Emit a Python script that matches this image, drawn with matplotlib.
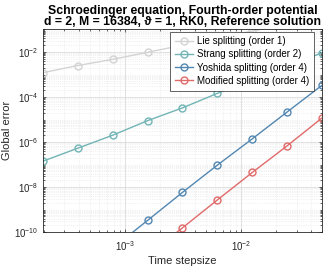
import numpy as np
import matplotlib
matplotlib.use("Agg")
import matplotlib.pyplot as plt
from matplotlib.ticker import LogLocator, NullFormatter

plt.rcParams['font.family'] = ['Liberation Sans', 'DejaVu Sans']
plt.rcParams['mathtext.fontset'] = 'custom'
plt.rcParams['mathtext.rm'] = 'Liberation Sans'
plt.rcParams['mathtext.it'] = 'Liberation Sans:italic'

# time step sizes
stepsize = [0.05 / 2**k for k in range(8, -1, -1)]

# global errors (values outside the axes are clipped)
lie = [1.2e-3, 2.5e-3, 4.7e-3, 9.7e-3, 2.0e-2, 4.1e-2, 8.5e-2, 1.7e-1, 3.3e-1]
strang = [1.4e-7, 5.3e-7, 2.0e-6, 8.9e-6, 3.3e-5, 1.46e-4, 5.8e-4, 2.3e-3, 9.3e-3]
yoshida = [1.1e-12, 1.9e-11, 3.3e-10, 5.8e-9, 9.5e-8, 1.4e-6, 2.2e-5, 3.4e-4]
modified = [5e-13, 9e-12, 1.55e-10, 2.7e-9, 4.5e-8, 6.9e-7, 1.2e-5]

labels = ["Lie splitting (order 1)", "Strang splitting (order 2)",
          "Yoshida splitting (order 4)", "Modified splitting (order 4)"]
colors = ["#d3d3d3", "#72b4b5", "#5287b2", "#e06a69"]

fig = plt.figure(figsize=(3.27, 2.68), dpi=100)
ax = fig.add_axes([0.1306, 0.134, 0.855, 0.756])

series = [(stepsize, lie), (stepsize, strang),
          (stepsize[1:], yoshida), (stepsize[2:], modified)]
for (x, y), lab, c in zip(series, labels, colors):
    ax.plot(x, y, '-o', color=c, lw=1.0, ms=5, mfc='none', mew=1.0, label=lab)

ax.set_xscale('log')
ax.set_yscale('log')
ax.set_xlim(0.05 / 2**8, 0.05)
ax.set_ylim(1e-10, 1e-1)

ax.xaxis.set_major_locator(LogLocator(base=10, numticks=10))
ax.yaxis.set_major_locator(LogLocator(base=100, numticks=10))
ax.yaxis.set_minor_locator(LogLocator(base=10, subs=np.arange(1, 10), numticks=20))
ax.yaxis.set_minor_formatter(NullFormatter())
ax.xaxis.set_minor_formatter(NullFormatter())

ax.grid(True, which='major', color='#dcdcdc', lw=0.6)
ax.grid(True, which='minor', color='#e4e4e4', lw=0.5, ls=':')
ax.set_axisbelow(True)
ax.tick_params(which='both', direction='in', top=True, right=True,
               labelsize=7, colors='#262626', length=2.5, width=0.5)
ax.tick_params(axis='x', pad=5)
ax.tick_params(axis='y', pad=3)
ax.tick_params(which='minor', length=1.5)
for s in ax.spines.values():
    s.set_color('#262626')
    s.set_linewidth(0.6)

ax.set_xlabel("Time stepsize", fontsize=8, color='#262626', labelpad=2)
ax.set_ylabel("Global error", fontsize=8, color='#262626', labelpad=2)
ax.set_title("Schroedinger equation, Fourth-order potential\n"
             "d = 2, M = 16384, \u03d1 = 1, RK0, Reference solution",
             fontsize=8.8, fontweight='bold', linespacing=0.95, pad=3)

leg = ax.legend(loc='upper right', bbox_to_anchor=(0.972, 0.99), fontsize=7,
                frameon=True, fancybox=False, handlelength=1.9,
                borderpad=0.5, labelspacing=0.32, handletextpad=0.4,
                borderaxespad=0)
leg.get_frame().set_edgecolor('#262626')
leg.get_frame().set_linewidth(0.5)
leg.get_frame().set_alpha(1)

fig.savefig("out.png", dpi=100)
